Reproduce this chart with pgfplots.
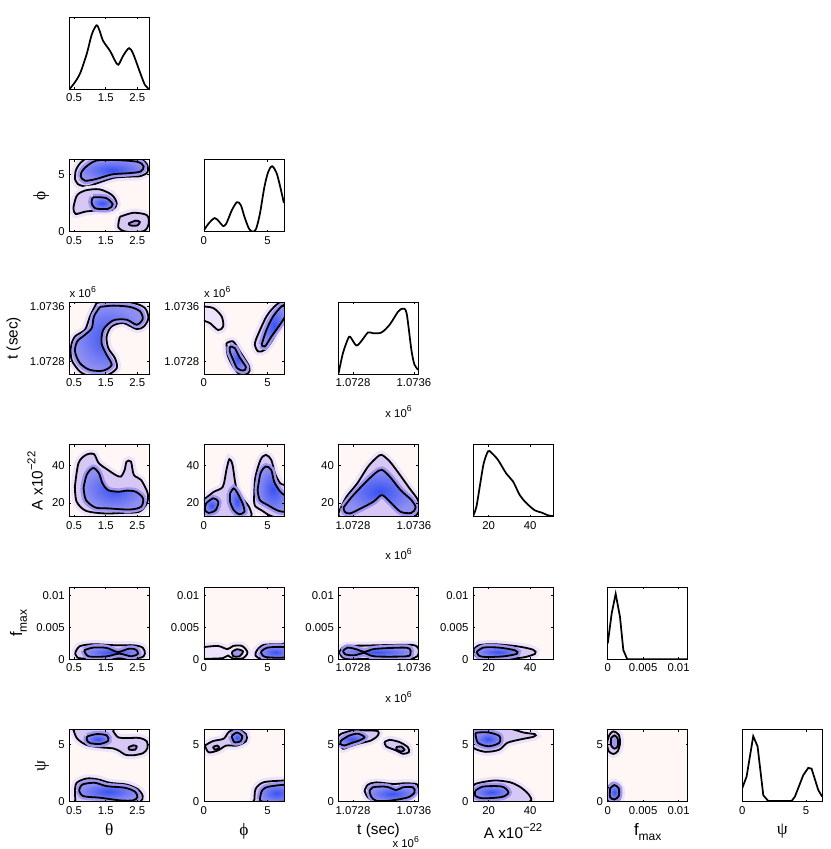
\documentclass[border=0pt]{standalone}
\usepackage{fontspec}
\setmainfont{Liberation Sans}
\newfontfamily\gk{Liberation Serif}
\usepackage{pgfplots}
\pgfplotsset{compat=1.18}
\definecolor{bgp}{rgb}{1,0.965,0.965}
\definecolor{lav}{rgb}{0.84,0.78,0.96}
\definecolor{lavh}{rgb}{0.93,0.89,0.98}
\definecolor{bluc}{rgb}{0.22,0.32,0.95}
\definecolor{bluo}{rgb}{0.56,0.56,0.95}
\definecolor{bluh}{rgb}{0.62,0.58,0.95}
\definecolor{blul}{rgb}{0.64,0.58,0.94}
\newcommand{\tf}{\fontsize{8.5}{10}\selectfont}
\newcommand{\lf}{\fontsize{11.5}{13}\selectfont}
\newcommand{\gf}{\fontsize{13}{14}\selectfont\gk}
\newcommand{\sixe}{x 10\raisebox{0.9ex}{\fontsize{6.5}{7}\selectfont 6}}
\newcommand{\fmax}{\fontsize{12.5}{14}\selectfont f\raisebox{-0.55ex}{\fontsize{9}{10}\selectfont max}}
\newcommand{\Alab}{A x10\raisebox{0.9ex}{\fontsize{8.5}{9}\selectfont −22}}

\pgfplotsset{
  cp/.style={scale only axis, width=60pt, height=54pt, anchor=north west,
    axis line style={line width=0.5pt}, tick align=inside, major tick length=1.6pt,
    tick style={line width=0.4pt, black}, tick label style={font=\tf},
    /pgf/number format/assume math mode=true, scaled ticks=false, axis on top,
    label style={font=\lf}},
  pair/.style={cp, axis background/.style={fill=bgp}},
  diag/.style={cp, ymin=0, ymax=1, ytick=\empty},
  xth/.style={xmin=0.35, xmax=2.88, xtick={0.5,1.5,2.5}},
  xph/.style={xmin=0, xmax=6.28, xtick={0,5}},
  xt/.style={xmin=610, xmax=1660, xtick={800,1600}, xticklabels={1.0728,1.0736}},
  xA/.style={xmin=12.5, xmax=51, xtick={20,40}},
  xf/.style={xmin=0, xmax=0.0113, xtick={0,0.005,0.01}, xticklabels={0,0.005,0.01}},
  yph/.style={ymin=0, ymax=6.28, ytick={0,5}},
  yt/.style={ymin=610, ymax=1660, ytick={800,1600}, yticklabels={1.0728,1.0736}},
  yA/.style={ymin=12.5, ymax=51, ytick={20,40}},
  yf/.style={ymin=0, ymax=0.0113, ytick={0,0.005,0.01}, yticklabels={0,0.005,0.01}},
  ctA/.style={smooth, draw=black, line width=1.35pt, fill=lav, preaction={draw=lavh, line width=6pt}},
  ctB/.style={smooth, draw=black, line width=1.35pt, preaction={draw=bluh, line width=5pt},
    inner color=bluc, outer color=bluo},
  ctL/.style={smooth, draw=black, line width=1.35pt, fill=blul},
  dg/.style={black, line width=1.3pt},
  sixbelow/.style={after end axis/.append code={\node[font=\tf] at (rel axis cs:0.75,-0.52) {\sixe};}},
  sixtop/.style={after end axis/.append code={\node[font=\tf, anchor=south west, inner sep=0pt] at (rel axis cs:0,1.06) {\sixe};}},
}

\begin{document}
\begin{tikzpicture}
\path[use as bounding box] (0,0) rectangle (623.25pt,-636.75pt);

% ---- row 1: theta
\begin{axis}[diag, xth, at={(52pt,-12.9pt)}]
\addplot[dg, smooth] coordinates {(0.35,0) (0.50,0.08) (0.69,0.22) (0.90,0.49) (1.06,0.76) (1.21,0.887) (1.30,0.82) (1.42,0.67) (1.64,0.53) (1.79,0.40) (1.90,0.34) (2.06,0.47) (2.24,0.57) (2.37,0.49) (2.58,0.24) (2.74,0.06) (2.88,0)};
\end{axis}

% ---- row 2: phi
\begin{axis}[pair, xth, yph, at={(52pt,-119.8pt)}, ylabel={\gf ϕ}]
\addplot[ctA] coordinates {(0.53,4.6) (0.62,4.15) (0.9,3.95) (1.3,4.3) (1.75,4.7) (2.2,4.8) (2.6,4.85) (2.82,5.2) (2.8,5.9) (2.5,6.5) (1.8,6.6) (1.0,6.5) (0.7,6.0) (0.55,5.3) (0.53,4.6)};
\addplot[ctA] coordinates {(0.5,2.4) (0.6,3.2) (0.85,3.6) (1.3,3.7) (1.7,3.2) (1.85,2.45) (1.7,1.9) (1.2,1.85) (0.85,1.75) (0.55,1.55) (0.48,2.0) (0.5,2.4)};
\addplot[ctA] coordinates {(1.95,1.3) (2.37,1.65) (2.8,1.45) (2.86,0.7) (2.7,0.05) (2.15,0.0) (1.9,0.4) (1.95,1.3)};
\addplot[ctB] coordinates {(0.72,4.75) (0.85,4.45) (1.2,4.6) (1.7,5.0) (2.2,5.1) (2.6,5.25) (2.7,5.7) (2.5,6.1) (1.8,6.25) (1.2,6.2) (0.85,5.6) (0.72,5.1) (0.72,4.75)};
\addplot[ctB] coordinates {(1.1,3.0) (1.5,2.95) (1.72,2.4) (1.58,2.0) (1.16,2.05) (1.05,2.6) (1.1,3.0)};
\addplot[ctL] coordinates {(2.22,0.72) (2.45,0.97) (2.58,0.85) (2.5,0.55) (2.28,0.55) (2.22,0.72)};
\end{axis}
\begin{axis}[diag, xph, at={(152.9pt,-119.8pt)}]
\addplot[dg, smooth] coordinates {(0,0.02) (0.4,0.12) (0.85,0.19) (1.2,0.14) (1.5,0.08) (1.75,0.11) (2.2,0.3) (2.6,0.41) (2.9,0.37) (3.2,0.2) (3.55,0.04) (3.85,0.0) (4.1,0.04) (4.4,0.25) (4.75,0.62) (5.05,0.83) (5.35,0.91) (5.7,0.82) (6.0,0.62) (6.28,0.4)};
\end{axis}

% ---- row 3: t
\begin{axis}[pair, xth, yt, sixtop, at={(52pt,-226.7pt)}, ylabel={t (sec)}]
\addplot[ctA] coordinates {(1.214,1650) (1.004,1455) (0.845,1260) (0.529,1162) (0.403,1015) (0.424,820) (0.687,649) (1.004,586) (1.53,595) (1.847,698) (1.794,844) (1.583,991) (1.53,1162) (1.689,1308) (2.058,1357) (2.48,1269) (2.71,1308) (2.85,1430) (2.74,1577) (2.37,1650) (1.74,1684) (1.214,1650)};
\addplot[ctB] coordinates {(1.32,1592) (1.13,1455) (1.06,1284) (0.845,1186) (0.60,1089) (0.53,942) (0.687,771) (1.004,673) (1.425,664) (1.689,747) (1.53,893) (1.37,1064) (1.425,1260) (1.74,1396) (2.16,1406) (2.48,1333) (2.67,1416) (2.585,1528) (2.27,1592) (1.74,1611) (1.32,1592)};
\end{axis}
\begin{axis}[pair, xph, yt, sixtop, at={(152.9pt,-226.7pt)}]
\addplot[ctA, fill=lavh] coordinates {(-0.2,1600) (0.73,1577) (1.39,1455) (1.52,1308) (1.125,1255) (0.47,1357) (-0.2,1420) (-0.2,1600)};
\addplot[ctA] coordinates {(1.78,1064) (2.30,1089) (2.83,942) (3.56,722) (3.48,625) (2.83,610) (2.30,722) (1.86,893) (1.78,1064)};
\addplot[ctA] coordinates {(4.13,1137) (4.92,1455) (5.71,1626) (6.44,1675) (6.44,1430) (5.84,1260) (5.31,1089) (4.79,967) (4.27,942) (4.0,1040) (4.13,1137)};
\addplot[ctB] coordinates {(2.04,1015) (2.43,991) (2.77,869) (3.30,713) (3.09,664) (2.62,698) (2.30,820) (2.04,942) (2.04,1015)};
\addplot[ctB] coordinates {(4.53,1040) (4.92,1260) (5.44,1455) (6.10,1601) (6.44,1611) (6.44,1479) (5.97,1333) (5.31,1162) (4.79,1015) (4.53,1040)};
\end{axis}
\begin{axis}[diag, xt, sixbelow, at={(253.9pt,-226.7pt)}]
\addplot[dg, smooth] coordinates {(610,0.01) (667,0.29) (733,0.49) (763,0.52) (843,0.4) (909,0.46) (996,0.58) (1062,0.57) (1173,0.58) (1282,0.69) (1392,0.87) (1450,0.91) (1503,0.85) (1566,0.34) (1608,0.13) (1660,0.06)};
\end{axis}

% ---- row 4: A
\begin{axis}[pair, xth, yA, at={(52pt,-333.6pt)}, ylabel={\Alab}]
\addplot[ctA] coordinates {(0.525,28.6) (0.64,41.2) (0.875,45.6) (1.13,46) (1.28,41.2) (1.57,37.6) (1.81,34.9) (1.98,34) (2.10,37.6) (2.16,42) (2.30,42) (2.39,34.9) (2.62,32.2) (2.83,25) (2.80,19.7) (2.56,15.2) (2.04,14.6) (1.46,14.3) (0.875,15.7) (0.58,20.6) (0.525,28.6)};
\addplot[ctB] coordinates {(0.80,28.0) (0.90,35.0) (1.10,38.6) (1.28,36.0) (1.40,30.4) (1.57,26.8) (1.92,25.9) (2.16,26.5) (2.45,25.9) (2.68,22.4) (2.62,17.9) (2.27,16.4) (1.57,17) (1.17,17.5) (0.875,21.5) (0.80,28.0)};
\end{axis}
\begin{axis}[pair, xph, yA, at={(152.9pt,-333.6pt)}]
\addplot[ctA] coordinates {(-0.2,20.6) (0.79,25.9) (1.49,28.6) (1.77,37.6) (2.0,43.3) (2.25,40.3) (2.53,28.6) (3.04,22.4) (3.60,17.0) (3.46,11.6) (-0.2,11.6) (-0.2,20.6)};
\addplot[ctA] coordinates {(3.94,21.5) (4.03,33.1) (4.45,43.0) (4.87,45.6) (5.29,43.0) (5.58,35.8) (6.0,30.4) (6.56,27.7) (6.56,11.6) (5.29,12.9) (4.59,15.7) (4.03,18.2) (3.94,21.5)};
\addplot[ctB] coordinates {(0.17,19.7) (0.73,22.4) (1.13,20.6) (0.93,16.1) (0.37,14.6) (0.08,16.4) (0.17,19.7)};
\addplot[ctB] coordinates {(2.06,25.0) (2.34,27.7) (2.62,25.4) (3.04,19.7) (3.18,15.2) (2.76,13.9) (2.34,16.1) (2.06,20.6) (2.06,25.0)};
\addplot[ctB] coordinates {(4.22,26.8) (4.45,35.8) (4.87,39.4) (5.29,37.6) (5.52,31.3) (6.0,25.9) (6.56,22.4) (6.56,15.7) (5.86,15.7) (5.01,18.8) (4.39,21.5) (4.22,26.8)};
\end{axis}
\begin{axis}[pair, xt, yA, sixbelow, at={(253.9pt,-333.6pt)}]
\addplot[ctA] coordinates {(629,16.4) (714,23.2) (856,30.4) (998,39.4) (1116,44.4) (1178,45.6) (1282,42.1) (1400,35.8) (1542,27.7) (1651,21.5) (1665,16.1) (1565,12.0) (1092,11.5) (640,12.0) (629,16.4)};
\addplot[ctB] coordinates {(676,17.5) (785,23.2) (951,30.4) (1092,35.8) (1178,37.6) (1282,34.0) (1424,26.8) (1565,21.5) (1622,17.5) (1565,14.6) (1424,15.2) (1282,20.6) (1178,24.1) (1069,20.6) (903,17.0) (761,14.3) (690,15.2) (676,17.5)};
\end{axis}
\begin{axis}[diag, xA, at={(354.8pt,-333.6pt)}]
\addplot[dg, smooth] coordinates {(12.5,0.01) (14.1,0.14) (16.0,0.47) (17.6,0.74) (19.7,0.91) (21.3,0.89) (24.5,0.79) (28.5,0.6) (31.75,0.49) (35,0.3) (38.2,0.19) (42.2,0.09) (45.4,0.06) (48.6,0.02) (51,0.01)};
\end{axis}

% ---- row 5: f_max
\begin{axis}[pair, xth, yf, at={(52pt,-440.5pt)}, ylabel={\fmax}]
\addplot[ctA] coordinates {(0.535,0.001) (0.677,0.00205) (1.10,0.00237) (1.81,0.00221) (2.38,0.00221) (2.67,0.00184) (2.74,0.00089) (2.60,0.00026) (1.96,0.00016) (0.96,0.0001) (0.61,0.00026) (0.535,0.001)};
\addplot[ctB] coordinates {(0.82,0.00142) (1.10,0.00184) (1.53,0.00179) (1.88,0.00116) (2.24,0.00168) (2.45,0.00152) (2.52,0.00089) (2.31,0.00047) (1.93,0.00089) (1.53,0.00047) (0.96,0.00047) (0.82,0.00142)};
\end{axis}
\begin{axis}[pair, xph, yf, at={(152.9pt,-440.5pt)}]
\addplot[ctA, fill=lavh] coordinates {(-0.1,0.0019) (1.1,0.0021) (1.85,0.0016) (2.3,0.0021) (3.0,0.0021) (3.42,0.0011) (3.1,0.0002) (2.3,0.0001) (1.9,0.0006) (1.5,0.0002) (0.4,0.0001) (-0.1,0.0002) (-0.1,0.0019)};
\addplot[ctA] coordinates {(4.13,0.0013) (4.66,0.00225) (6.07,0.00237) (6.5,0.0024) (6.5,0.0) (4.6,0.00005) (4.05,0.0006) (4.13,0.0013)};
\addplot[ctL] coordinates {(2.2,0.00116) (2.6,0.00158) (3.07,0.00126) (2.8,0.00047) (2.3,0.0005) (2.2,0.00116)};
\addplot[ctB] coordinates {(4.48,0.00116) (5.01,0.00184) (6.5,0.00184) (6.5,0.00037) (4.83,0.00037) (4.48,0.00116)};
\end{axis}
\begin{axis}[pair, xt, yf, sixbelow, at={(253.9pt,-440.5pt)}]
\addplot[ctA] coordinates {(622,0.00116) (698,0.00205) (964,0.00216) (1318,0.00226) (1584,0.00226) (1660,0.00168) (1643,0.00047) (1495,0.0001) (846,0.00005) (669,0.00026) (622,0.00116)};
\addplot[ctB] coordinates {(669,0.00131) (728,0.00184) (846,0.00158) (952,0.00116) (1082,0.00163) (1436,0.00184) (1542,0.00168) (1554,0.00089) (1495,0.00047) (1082,0.00047) (952,0.001) (816,0.00063) (698,0.00079) (669,0.00131)};
\end{axis}
\begin{axis}[pair, xA, yf, at={(354.8pt,-440.5pt)}]
\addplot[ctA] coordinates {(12.7,0.00142) (15.3,0.00221) (22.9,0.00237) (33.7,0.00205) (41.3,0.00152) (42.4,0.00089) (35.9,0.00026) (22.9,0.00005) (14.7,0.00026) (12.7,0.00142)};
\addplot[ctB] coordinates {(14.2,0.00116) (17.5,0.00184) (25.0,0.00184) (32.6,0.00142) (33.7,0.00089) (27.2,0.00047) (18.5,0.00037) (15.3,0.00058) (14.2,0.00116)};
\end{axis}
\begin{axis}[diag, xf, at={(455.8pt,-440.5pt)}]
\addplot[dg] coordinates {(0,0.22) (0.00056,0.64) (0.00112,0.91) (0.00173,0.59) (0.0022,0.13) (0.00276,0) (0.0113,0)};
\end{axis}

% ---- row 6: psi
\begin{axis}[pair, xth, yph, at={(52pt,-547.3pt)}, ylabel={\gf ψ}, xlabel={\gf θ}]
\addplot[ctA] coordinates {(0.45,6.5) (0.476,6.28) (0.60,5.5) (0.898,4.95) (1.32,4.75) (1.74,4.65) (1.95,4.40) (2.11,4.11) (2.37,4.05) (2.69,4.25) (2.82,4.69) (2.80,5.27) (2.58,5.56) (2.16,5.56) (1.90,5.61) (1.74,6.14) (1.69,6.5) (0.45,6.5)};
\addplot[ctA] coordinates {(0.53,0.98) (0.58,1.65) (0.90,2.03) (1.27,1.94) (1.64,1.65) (2.16,1.50) (2.53,1.07) (2.67,0.49) (2.59,0) (2.16,-0.17) (0.69,-0.17) (0.54,0.35) (0.53,0.98)};
\addplot[ctB] coordinates {(0.92,5.70) (1.21,5.90) (1.53,5.79) (1.58,5.32) (1.32,5.04) (1.00,5.12) (0.90,5.41) (0.92,5.70)};
\addplot[ctL] coordinates {(2.22,4.75) (2.37,4.92) (2.48,4.83) (2.43,4.54) (2.25,4.54) (2.22,4.75)};
\addplot[ctB] coordinates {(0.66,0.98) (0.76,1.50) (1.16,1.65) (1.53,1.36) (2.11,1.22) (2.43,0.87) (2.50,0.41) (2.37,0.12) (1.95,0.12) (1.32,0.35) (0.79,0.49) (0.66,0.98)};
\end{axis}
\begin{axis}[pair, xph, yph, at={(152.9pt,-547.3pt)}, xlabel={\gf ϕ}]
\addplot[ctA] coordinates {(0.08,4.90) (0.71,5.29) (1.55,5.50) (1.97,6.10) (2.60,6.34) (3.31,5.89) (3.31,5.29) (2.60,4.90) (1.76,4.90) (1.13,4.49) (0.38,4.31) (0.08,4.90)};
\addplot[ctA] coordinates {(3.98,0.21) (4.06,1.11) (4.69,1.70) (6.28,1.85) (6.78,1.85) (6.78,-0.24) (4.06,-0.24) (3.98,0.21)};
\addplot[ctB] coordinates {(2.18,5.74) (2.60,6.04) (3.01,5.74) (2.89,5.29) (2.39,5.20) (2.18,5.74)};
\addplot[ctL] coordinates {(0.71,4.78) (1.05,4.90) (1.21,4.69) (0.88,4.54) (0.71,4.78)};
\addplot[ctB] coordinates {(4.40,0.21) (4.56,0.96) (5.11,1.32) (6.78,1.41) (6.78,0.12) (4.69,0) (4.40,0.21)};
\end{axis}
\begin{axis}[pair, xt, yph, at={(253.9pt,-547.3pt)}, xlabel={t (sec)},
  after end axis/.append code={\node[font=\tf] at (rel axis cs:0.84,-0.56) {\sixe};}]
\addplot[ctA] coordinates {(600,5.64) (645,5.93) (798,6.22) (973,6.22) (1126,6.16) (1126,5.78) (1039,5.35) (864,5.05) (754,4.82) (667,4.62) (623,5.05) (600,5.64)};
\addplot[ctA] coordinates {(1214,5.20) (1279,5.40) (1411,5.20) (1520,4.76) (1533,4.32) (1454,4.18) (1367,4.47) (1236,4.82) (1214,5.20)};
\addplot[ctA] coordinates {(951,0.96) (995,1.49) (1104,1.69) (1323,1.55) (1476,1.61) (1629,1.55) (1656,1.26) (1608,0.61) (1476,0.15) (1236,-0.06) (1104,-0.06) (995,0.38) (951,0.96)};
\addplot[ctB] coordinates {(645,5.35) (754,5.78) (864,5.93) (951,5.64) (886,5.35) (776,5.11) (689,4.91) (632,5.05) (645,5.35)};
\addplot[ctL] coordinates {(1367,4.76) (1433,4.82) (1476,4.53) (1433,4.38) (1376,4.53) (1367,4.76)};
\addplot[ctB] coordinates {(1017,0.91) (1061,1.26) (1236,1.31) (1367,1.02) (1454,1.26) (1586,1.26) (1608,0.82) (1520,0.38) (1279,0.09) (1104,0.09) (1039,0.44) (1017,0.91)};
\end{axis}
\begin{axis}[pair, xA, yph, at={(354.8pt,-547.3pt)}, xlabel={\Alab}]
\addplot[ctA] coordinates {(11.5,6.5) (11.5,5.0) (13.6,4.6) (18.7,4.35) (25.1,4.54) (29.0,5.14) (35.4,5.44) (41.8,5.68) (42.3,5.89) (36.7,6.04) (29.0,6.4) (11.5,6.5)};
\addplot[ctA] coordinates {(11.5,1.0) (13.6,1.55) (22.6,1.85) (30.3,1.70) (35.4,1.26) (39.2,0.66) (40.5,0.12) (36.7,-0.1) (21.3,-0.1) (11.5,0.06) (11.5,1.0)};
\addplot[ctB] coordinates {(13.6,5.96) (14.9,5.14) (20.0,4.84) (25.1,5.14) (25.1,5.74) (20,6.04) (14.9,6.04) (13.6,5.96)};
\addplot[ctB] coordinates {(13.6,0.96) (17.4,1.32) (26.4,1.32) (29.5,0.81) (26.4,0.42) (17.4,0.30) (13.6,0.51) (13.6,0.96)};
\end{axis}
\begin{axis}[pair, xf, yph, at={(455.8pt,-547.3pt)}, xlabel={\fmax}]
\addplot[ctA] coordinates {(0.00024,5.85) (0.0008,6.14) (0.00155,5.85) (0.00174,5.12) (0.00141,4.40) (0.0008,4.17) (0.00014,4.40) (-0.0001,5.12) (0.00024,5.85)};
\addplot[ctA] coordinates {(0.00014,1.36) (0.0008,1.65) (0.00155,1.45) (0.00188,0.93) (0.00165,0.20) (0.0008,0) (0.00014,0.12) (-0.0001,0.78) (0.00014,1.36)};
\addplot[ctL] coordinates {(0.00047,5.56) (0.00094,5.79) (0.00141,5.50) (0.00141,4.83) (0.00094,4.63) (0.00047,4.92) (0.00047,5.56)};
\addplot[ctB] coordinates {(0.00033,1.16) (0.00094,1.45) (0.00155,1.16) (0.00155,0.49) (0.00094,0.20) (0.00033,0.41) (0.00033,1.16)};
\end{axis}
\begin{axis}[diag, xph, at={(556.7pt,-547.3pt)}, xlabel={\gf ψ}]
\addplot[dg] coordinates {(0,0.19) (0.34,0.35) (0.86,0.91) (1.2,0.77) (1.65,0.09) (2.04,0.01) (3.87,0.01) (4.13,0.07) (4.79,0.37) (5.18,0.47) (5.44,0.46) (5.97,0.16) (6.28,0.07)};
\end{axis}
\end{tikzpicture}
\end{document}
